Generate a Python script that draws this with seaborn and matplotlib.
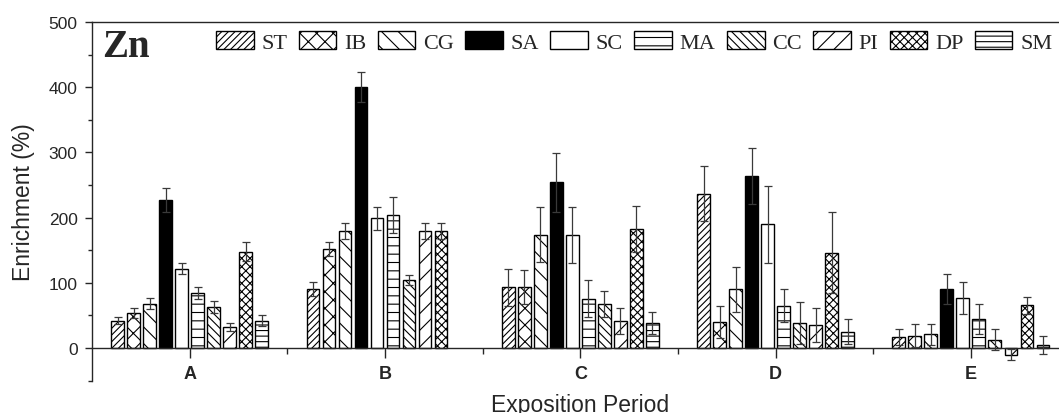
import numpy as np
import pandas as pd
import matplotlib
matplotlib.use('Agg')
import matplotlib.pyplot as plt
from matplotlib.patches import Patch
from matplotlib.ticker import MultipleLocator, FixedLocator
import seaborn as sns

# Data (enrichment %) for exposition periods A-E
periods = ['A', 'B', 'C', 'D', 'E']
sites = ['ST', 'IB', 'CG', 'SA', 'SC', 'MA', 'CC', 'PI', 'DP', 'SM']

st = [42, 91, 93, 237, 17]
ib = [54, 152, 93, 40, 19]
cg = [68, 180, 174, 90, 21]
sa = [227, 400, 254, 264, 90]
sc = [122, 199, 174, 190, 77]
ma = [85, 204, 76, 65, 45]
cc = [63, 104, 68, 38, 13]
pi = [32, 180, 42, 35, -10]
dp = [148, 180, 183, 146, 66]
sm = [42, np.nan, 39, 25, 5]

st_err = [5, 11, 28, 42, 12]
ib_err = [8, 11, 26, 24, 18]
cg_err = [8.5, 12, 42, 34, 16]
sa_err = [18, 23, 45, 43, 23]
sc_err = [8, 18, 43, 59, 25]
ma_err = [9, 27, 28, 25, 23]
cc_err = [9, 8, 20, 32, 16]
pi_err = [6, 12, 20, 26, 9]
dp_err = [14, 12, 35, 62, 13]
sm_err = [8, np.nan, 17, 19, 14]

values = dict(zip(sites, [st, ib, cg, sa, sc, ma, cc, pi, dp, sm]))
errors = dict(zip(sites, [st_err, ib_err, cg_err, sa_err, sc_err,
                          ma_err, cc_err, pi_err, dp_err, sm_err]))

# Long-form table for seaborn
rows = []
for s in sites:
    for p, v, e in zip(periods, values[s], errors[s]):
        rows.append({'period': p, 'site': s, 'value': v, 'err': e})
df = pd.DataFrame(rows).dropna()

# Styles
hatches = {'ST': '/////', 'IB': 'xx', 'CG': '\\\\', 'SA': '', 'SC': '',
           'MA': '--', 'CC': '\\\\\\\\', 'PI': '//', 'DP': 'xxxx', 'SM': '---'}
fills = {s: ('black' if s == 'SA' else 'white') for s in sites}

sns.set_style('ticks')
plt.rcParams['font.family'] = ['Liberation Sans', 'DejaVu Sans']
plt.rcParams['hatch.linewidth'] = 0.8
plt.rcParams['axes.linewidth'] = 1.0

fig = plt.figure(figsize=(10.59, 4.14), dpi=100)
ax = fig.add_axes([0.0869, 0.078, 0.9221, 0.8664])

sns.barplot(data=df, x='period', y='value', hue='site', order=periods,
            hue_order=sites, palette=fills, saturation=1, errorbar=None,
            width=0.82, gap=0.2, edgecolor='black', linewidth=1.0,
            legend=False, ax=ax)

# Hatches, fills and error bars per site
for container, s in zip(ax.containers, sites):
    xs, ys, es = [], [], []
    for patch in container:
        patch.set_facecolor(fills[s])
        patch.set_hatch(hatches[s])
        xc = patch.get_x() + patch.get_width() / 2
        i = int(round(xc))
        xs.append(xc)
        ys.append(values[s][i])
        es.append(errors[s][i])
    ax.errorbar(xs, ys, yerr=es, fmt='none', ecolor='#3a3a3a',
                elinewidth=0.9, capsize=2.9, capthick=0.9, zorder=5)

# Axes layout
ax.set_xlim(-0.5, 4.5)
ax.set_ylim(-50, 500)
ax.spines['bottom'].set_position(('data', 0))
ax.yaxis.set_major_locator(FixedLocator([0, 100, 200, 300, 400, 500]))
ax.yaxis.set_minor_locator(MultipleLocator(50))
ax.xaxis.set_minor_locator(FixedLocator([0.5, 1.5, 2.5, 3.5]))

ax.tick_params(axis='y', which='major', direction='out', length=5.4,
               width=1, labelsize=12.5, pad=5)
ax.tick_params(axis='y', which='minor', direction='out', length=3, width=1)
ax.tick_params(axis='x', which='major', direction='out', length=7.2,
               width=1, labelsize=13, pad=5)
ax.tick_params(axis='x', which='minor', direction='out', length=4, width=1)
for lbl in ax.get_xticklabels():
    lbl.set_fontweight('bold')

ax.set_xlabel('Exposition Period', fontsize=16.5)
ax.xaxis.set_label_coords(0.5, -0.035)
ax.set_ylabel('Enrichment (%)', fontsize=16.5)
ax.yaxis.set_label_coords(-0.058, 0.5)

# Element label and legend
fig.text(102 / 1059, 1 - 57 / 414, 'Zn', family='Liberation Serif',
         weight='bold', size=28, va='baseline')

handles = [Patch(facecolor=fills[s], edgecolor='black', hatch=hatches[s],
                 linewidth=1.0, label=s) for s in sites]
ax.legend(handles=handles, ncol=10, loc='center left',
          bbox_to_anchor=(216 / 1059, 1 - 43 / 414),
          bbox_transform=fig.transFigure, frameon=False, borderpad=0,
          borderaxespad=0, handlelength=1.7, handleheight=0.85,
          handletextpad=0.35, columnspacing=0.5,
          prop={'family': 'Liberation Serif', 'size': 16})

fig.savefig('out.png', dpi=100)
